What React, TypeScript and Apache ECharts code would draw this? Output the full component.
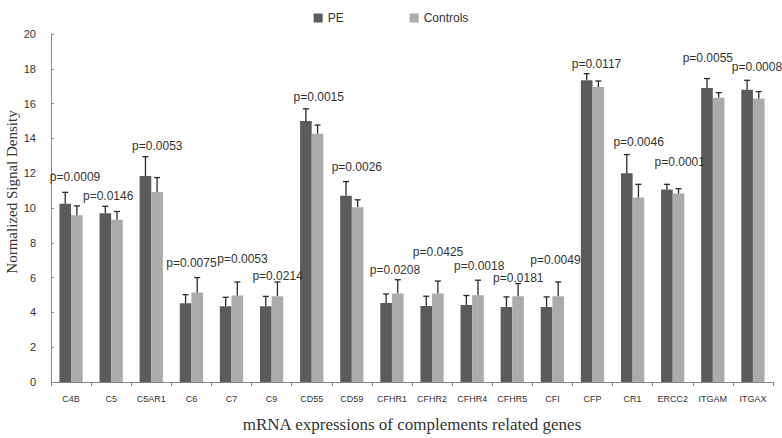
import React, { useEffect, useRef } from "react";
import * as echarts from "echarts";

const categories = ["C4B", "C5", "C5AR1", "C6", "C7", "C9", "CD55", "CD59", "CFHR1", "CFHR2", "CFHR4", "CFHR5", "CFI", "CFP", "CR1", "ERCC2", "ITGAM", "ITGAX"];
const peMean = [10.25, 9.7, 11.84, 4.52, 4.36, 4.36, 15.0, 10.7, 4.54, 4.37, 4.43, 4.31, 4.31, 17.34, 12.0, 11.06, 16.9, 16.8];
const peSD = [0.65, 0.4, 1.11, 0.5, 0.51, 0.56, 0.7, 0.82, 0.52, 0.56, 0.54, 0.58, 0.58, 0.38, 1.07, 0.3, 0.54, 0.54];
const ctrlMean = [9.58, 9.33, 10.92, 5.15, 4.97, 4.93, 14.27, 10.05, 5.08, 5.08, 4.98, 4.93, 4.93, 16.95, 10.6, 10.83, 16.34, 16.29];
const ctrlSD = [0.54, 0.47, 0.83, 0.85, 0.78, 0.82, 0.5, 0.42, 0.8, 0.72, 0.87, 0.73, 0.82, 0.35, 0.76, 0.28, 0.29, 0.4];
const pValues = ["p=0.0009", "p=0.0146", "p=0.0053", "p=0.0075", "p=0.0053", "p=0.0214", "p=0.0015", "p=0.0026", "p=0.0208", "p=0.0425", "p=0.0018", "p=0.0181", "p=0.0049", "p=0.0117", "p=0.0046", "p=0.0001", "p=0.0055", "p=0.0008"];
const yTicks = { min: 0, max: 20, interval: 2 };

// label placement styling (pixel offsets relative to the highest error bar)
const labelDx = [4, -3, 6, 0, 11, 6, 7, 5, 3, 6, 7, 6, 3, 4, 6, 7, -5, 4];
const labelDy = [15, 10, 11, 15, 23, 6, 12, 15, 10, 29, 14, 6, 22, 10, 13, 22, 21, 13];

const PE_COLOR = "#5b5b5b";
const CTRL_COLOR = "#ababab";
const BAR_FRACTION = 0.29;

export default function App() {
  const ref = useRef<HTMLDivElement>(null);
  useEffect(() => {
    if (!ref.current) return;
    document.body.style.margin = "0";
    const chart = echarts.init(ref.current, null, { renderer: "svg" });

    const errRender = (side: number) => (params: any, api: any) => {
      const idx = api.value(0);
      const base = api.coord([idx, api.value(1)]);
      const top = api.coord([idx, api.value(2)]);
      const bw = api.size([1, 0])[0];
      const barW = bw * BAR_FRACTION;
      const x = base[0] + side * barW / 2;
      const style = { stroke: "#2a2a2a", lineWidth: 1.3 };
      return {
        type: "group",
        children: [
          { type: "line", shape: { x1: x, y1: base[1], x2: x, y2: top[1] }, style },
          { type: "line", shape: { x1: x - 3, y1: top[1], x2: x + 3, y2: top[1] }, style },
        ],
      };
    };

    const labelRender = (params: any, api: any) => {
      const idx = api.value(0);
      const p = api.coord([idx, api.value(1)]);
      return {
        type: "text",
        x: p[0] + labelDx[idx],
        y: p[1] - labelDy[idx],
        style: {
          text: pValues[idx],
          fill: "#333",
          font: "12px 'Liberation Sans', Arial, sans-serif",
          align: "center",
          verticalAlign: "middle",
        },
      };
    };

    chart.setOption({
      animation: false,
      legend: {
        data: ["PE", "Controls"],
        top: 7,
        left: "center",
        itemWidth: 9,
        itemHeight: 9,
        itemGap: 66,
        icon: "rect",
        textStyle: { fontSize: 12, color: "#333", fontFamily: "'Liberation Sans', Arial, sans-serif" },
      },
      graphic: [
        {
          type: "text",
          x: 12,
          y: 192,
          rotation: Math.PI / 2,
          style: {
            text: "Normalized Signal Density",
            fill: "#333",
            font: "15px 'Liberation Serif', 'Times New Roman', serif",
            align: "center",
            verticalAlign: "middle",
          },
        },
      ],
      grid: { left: 51, right: 9, top: 34, bottom: 56, containLabel: false },
      xAxis: {
        type: "category",
        data: categories,
        name: "mRNA expressions of complements related genes",
        nameLocation: "middle",
        nameGap: 34,
        nameTextStyle: { fontSize: 17, color: "#333", fontFamily: "'Liberation Serif', 'Times New Roman', serif" },
        axisLine: { lineStyle: { color: "#888" } },
        axisTick: { show: true, interval: 0, length: 4, lineStyle: { color: "#888" } },
        axisLabel: { interval: 0, fontSize: 9, color: "#333", margin: 12, fontFamily: "'Liberation Sans', Arial, sans-serif" },
        splitLine: { show: false },
      },
      yAxis: {
        type: "value",
        min: yTicks.min,
        max: yTicks.max,
        interval: yTicks.interval,
        axisLine: { show: true, lineStyle: { color: "#888" } },
        axisTick: { show: true, inside: true, length: 3, lineStyle: { color: "#888" } },
        axisLabel: { fontSize: 11, color: "#333", margin: 15, fontFamily: "'Liberation Sans', Arial, sans-serif" },
        splitLine: { show: false },
      },
      series: [
        {
          name: "PE",
          type: "bar",
          data: peMean,
          barWidth: BAR_FRACTION * 100 + "%",
          barGap: "0%",
          itemStyle: { color: PE_COLOR },
        },
        {
          name: "Controls",
          type: "bar",
          data: ctrlMean,
          barWidth: BAR_FRACTION * 100 + "%",
          barGap: "0%",
          itemStyle: { color: CTRL_COLOR },
        },
        {
          type: "custom",
          renderItem: errRender(-1),
          data: peMean.map((m, i) => [i, m, m + peSD[i]]),
          z: 5,
          silent: true,
        },
        {
          type: "custom",
          renderItem: errRender(1),
          data: ctrlMean.map((m, i) => [i, m, m + ctrlSD[i]]),
          z: 5,
          silent: true,
        },
        {
          type: "custom",
          renderItem: labelRender,
          data: categories.map((_, i) => [i, Math.max(peMean[i] + peSD[i], ctrlMean[i] + ctrlSD[i])]),
          z: 6,
          silent: true,
        },
      ],
    });
    return () => chart.dispose();
  }, []);
  return <div ref={ref} style={{ width: 782, height: 438 }} />;
}
